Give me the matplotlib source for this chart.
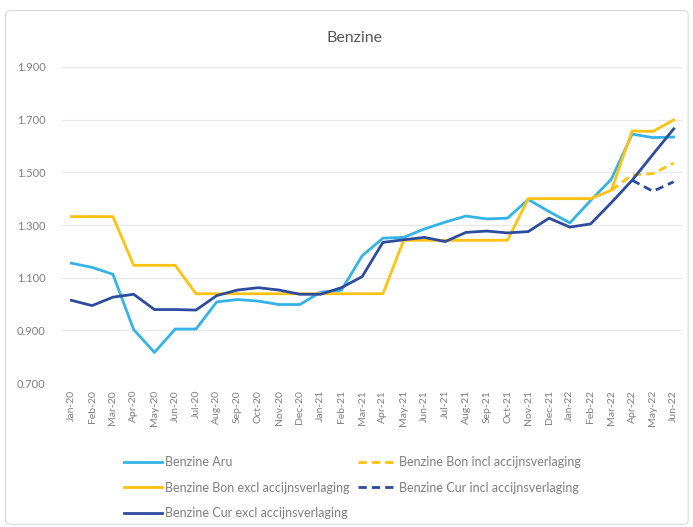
import numpy as np
import matplotlib
matplotlib.use("Agg")
import matplotlib.pyplot as plt
from matplotlib.patches import FancyBboxPatch
from matplotlib.ticker import FuncFormatter

months = ['Jan-20', 'Feb-20', 'Mar-20', 'Apr-20', 'May-20', 'Jun-20', 'Jul-20', 'Aug-20',
          'Sep-20', 'Oct-20', 'Nov-20', 'Dec-20', 'Jan-21', 'Feb-21', 'Mar-21', 'Apr-21',
          'May-21', 'Jun-21', 'Jul-21', 'Aug-21', 'Sep-21', 'Oct-21', 'Nov-21', 'Dec-21',
          'Jan-22', 'Feb-22', 'Mar-22', 'Apr-22', 'May-22', 'Jun-22']

aru = [1.155, 1.139, 1.113, 0.903, 0.816, 0.905, 0.905, 1.008, 1.017, 1.011,
       0.998, 0.998, 1.045, 1.052, 1.183, 1.250, 1.253, 1.285, 1.311, 1.334,
       1.323, 1.326, 1.397, 1.351, 1.308, 1.393, 1.474, 1.645, 1.632, 1.634]

bon_excl = [1.332, 1.332, 1.332, 1.147, 1.147, 1.147, 1.039, 1.039, 1.039, 1.039,
            1.039, 1.039, 1.039, 1.039, 1.039, 1.039, 1.242, 1.242, 1.242, 1.242,
            1.242, 1.242, 1.400, 1.400, 1.400, 1.400, 1.432, 1.657, 1.655, 1.699]

cur_excl = [1.014, 0.994, 1.026, 1.037, 0.979, 0.979, 0.977, 1.032, 1.053, 1.062,
            1.053, 1.037, 1.037, 1.062, 1.104, 1.234, 1.244, 1.253, 1.237, 1.272,
            1.277, 1.270, 1.275, 1.326, 1.292, 1.304, 1.385, 1.470, 1.568, 1.665]

bon_incl = [np.nan] * 26 + [1.432, 1.490, 1.495, 1.535]
cur_incl = [np.nan] * 27 + [1.470, 1.428, 1.464]

yticks = [0.7, 0.9, 1.1, 1.3, 1.5, 1.7, 1.9]

c_aru = '#33B4E8'
c_bon = '#FFC20E'
c_cur = '#2E4C9F'
txt = '#7F7F7F'

plt.rcParams['font.family'] = ['Lato', 'DejaVu Sans']

fig = plt.figure(figsize=(6.93, 5.27), dpi=100)
fig.patch.set_facecolor('white')
border = FancyBboxPatch((0.008, 0.005), 0.985, 0.975, boxstyle="round,pad=0,rounding_size=0.008",
                        transform=fig.transFigure, facecolor='none', edgecolor='#D9D9D9',
                        linewidth=0.8, zorder=-1)
fig.patches.append(border)

ax = fig.add_axes([0.0895, 0.2732, 0.8961, 0.5997])
ax.patch.set_alpha(0)
x = np.arange(len(months))
lw = 2.0
dash = (0, (3.0, 1.8))
l_aru, = ax.plot(x, aru, color=c_aru, lw=lw, label='Benzine Aru', solid_joinstyle='round')
l_bi, = ax.plot(x, bon_incl, color=c_bon, lw=lw, ls=dash, label='Benzine Bon incl accijnsverlaging')
l_be, = ax.plot(x, bon_excl, color=c_bon, lw=lw, label='Benzine Bon excl accijnsverlaging', solid_joinstyle='round')
l_ci, = ax.plot(x, cur_incl, color=c_cur, lw=lw, ls=dash, label='Benzine Cur incl accijnsverlaging')
l_ce, = ax.plot(x, cur_excl, color=c_cur, lw=lw, label='Benzine Cur excl accijnsverlaging', solid_joinstyle='round')

ax.set_xlim(-0.45, len(months) - 1 + 0.45)
ax.set_ylim(0.7, 1.9)
ax.set_yticks(yticks)
ax.yaxis.set_major_formatter(FuncFormatter(lambda v, p: f"{v:.3f}"))
ax.set_xticks(x)
ax.set_xticklabels(months, rotation=90, fontsize=7.5, color=txt)
ax.tick_params(axis='y', labelsize=8, labelcolor=txt, length=0, pad=12)
ax.tick_params(axis='x', length=0, pad=5)
ax.grid(axis='y', color='#E8E8E8', lw=0.9)
ax.set_axisbelow(True)
for s in ax.spines.values():
    s.set_visible(False)

fig.text(0.512, 0.928, 'Benzine', ha='center', va='center', fontsize=11.5, color='#595959')

handles = [l_aru, l_be, l_ce, l_bi, l_ci]
leg = fig.legend(handles, [h.get_label() for h in handles],
                 ncol=2, loc='upper left', bbox_to_anchor=(0.162, 0.156),
                 frameon=False, fontsize=9, labelcolor=txt, handlelength=3.1,
                 handletextpad=0.25, columnspacing=0.6, labelspacing=1.08)
fig.savefig('out.png', dpi=100)
